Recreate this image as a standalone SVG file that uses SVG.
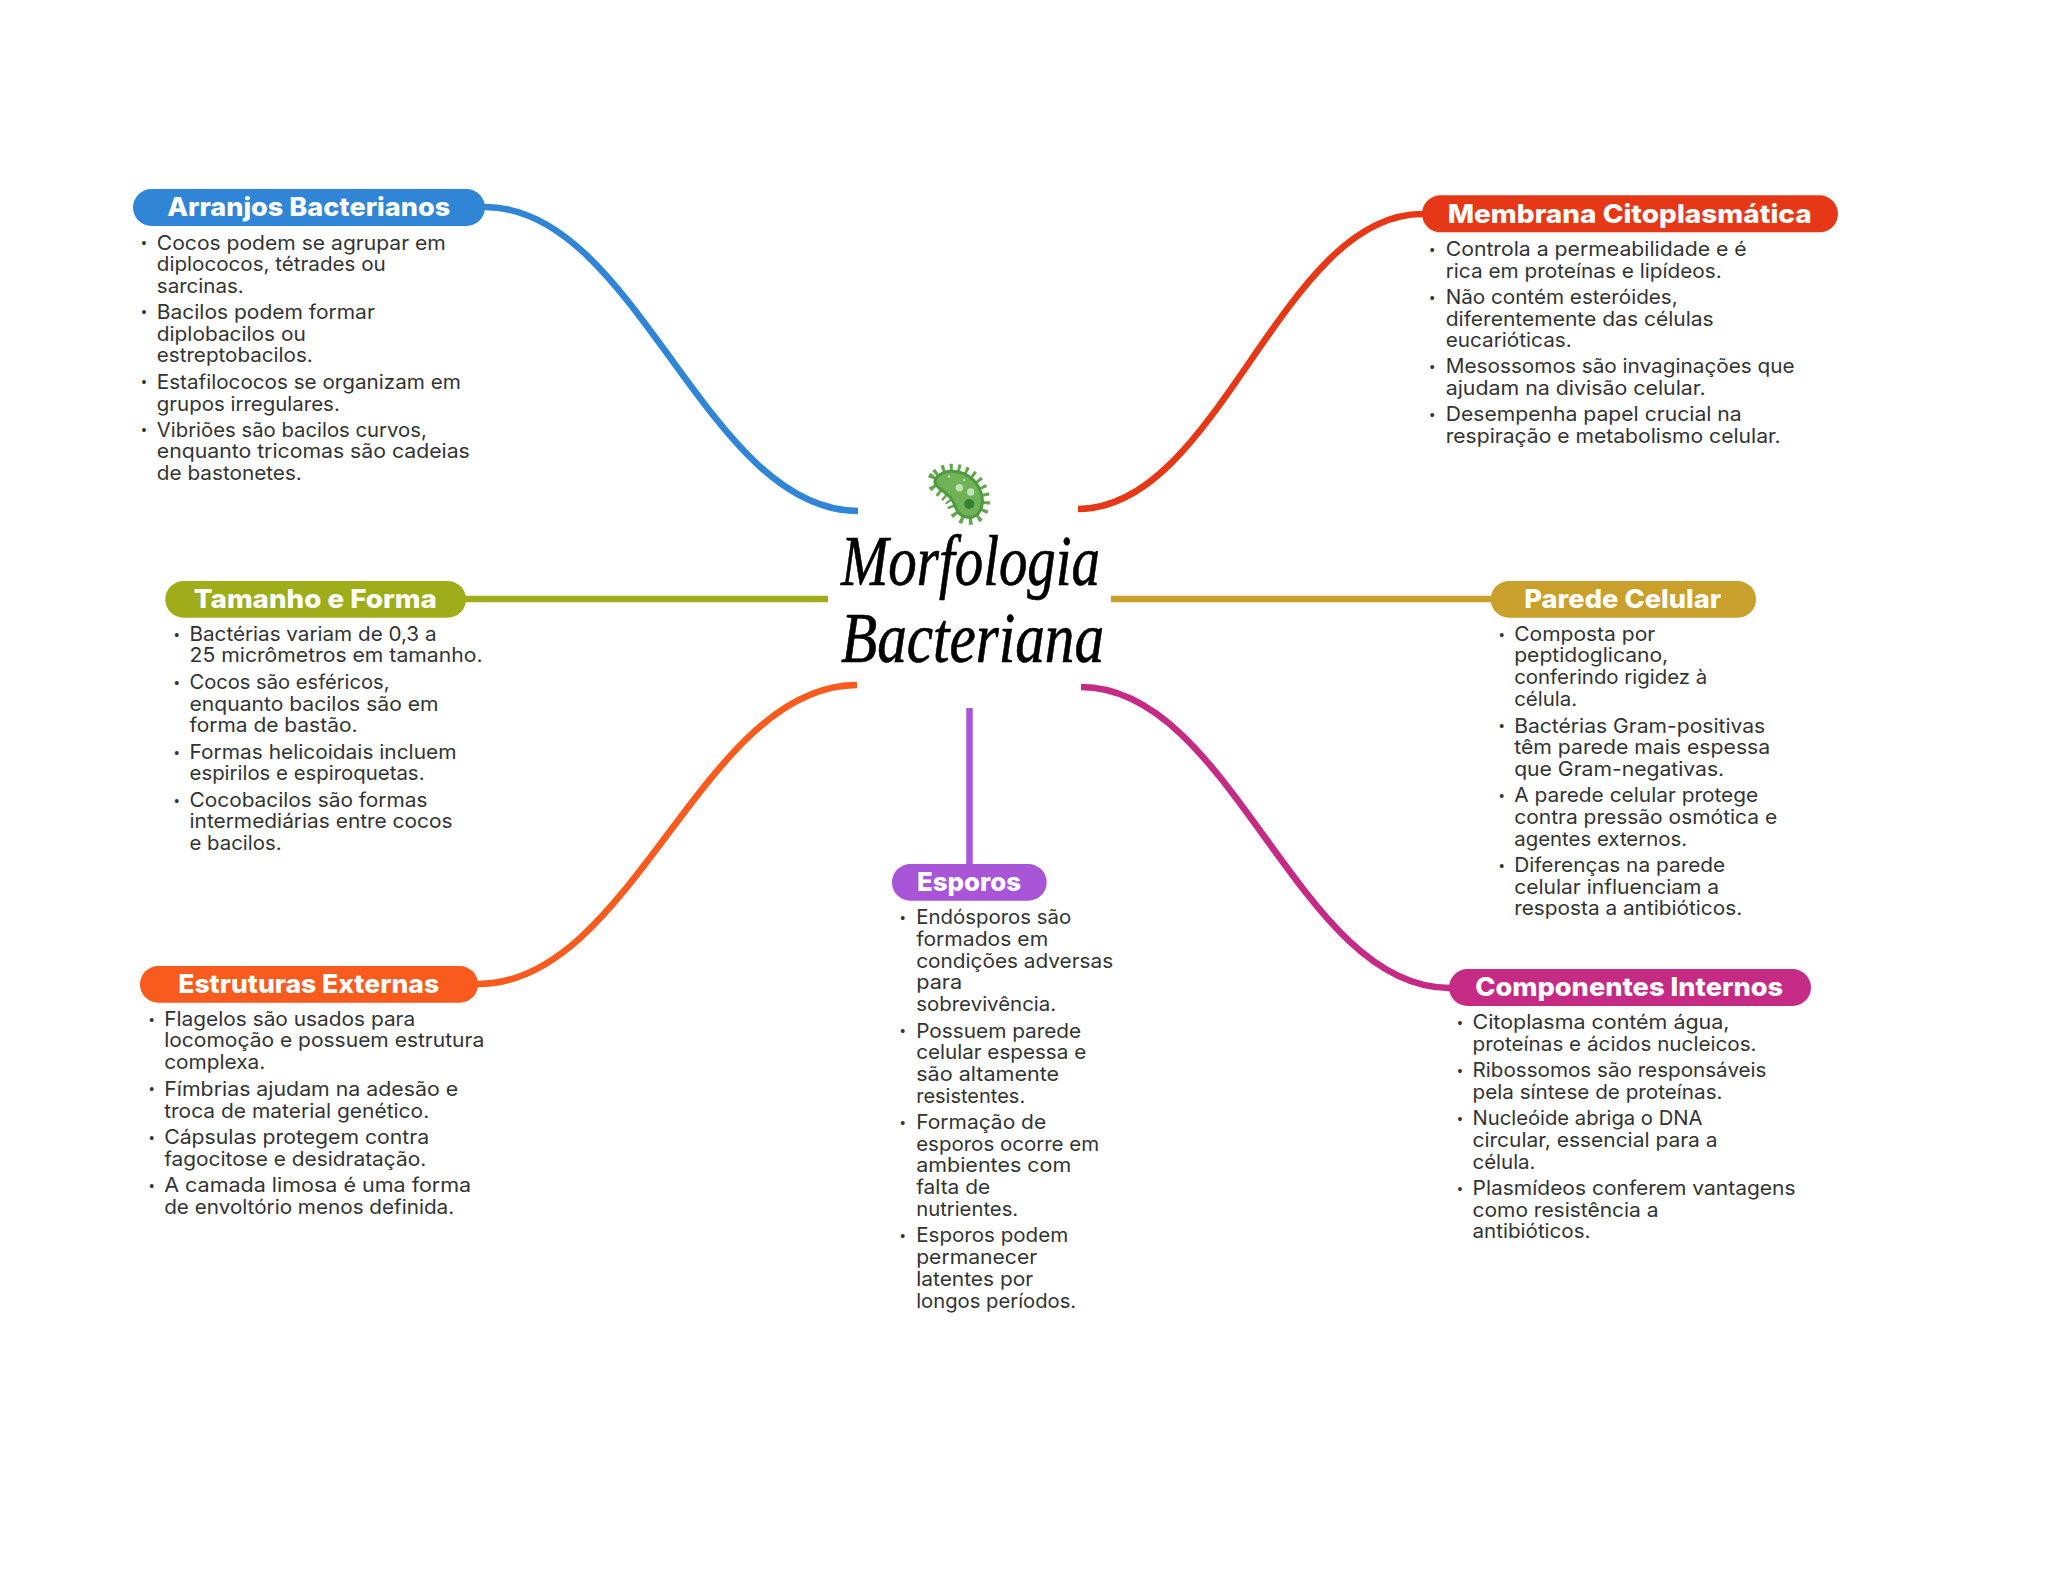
<svg xmlns="http://www.w3.org/2000/svg" width="2048" height="1569" viewBox="0 0 2048 1569">
<style>
.t{font-family:"Inter","Liberation Sans",sans-serif;font-weight:800;font-size:26px;fill:#fff}
.l{font-family:"Inter","Liberation Sans",sans-serif;font-size:20px;fill:#333}
.b{font-family:"Liberation Sans",sans-serif;font-size:14px;fill:#333;text-anchor:middle}
.h{font-family:"Liberation Serif",serif;font-style:italic;font-size:72px;fill:#000;stroke:#000;stroke-width:.7px}
.c{fill:none;stroke-width:6.5}
.blue{fill:#3085d6}.red{fill:#e63717}.olive{fill:#a0ad1a}.gold{fill:#c9a02c}.orange{fill:#f95a1e}.mag{fill:#c52b85}.pur{fill:#a855d8}
</style>
<g id="connectors">
<path class="c" stroke="#3085d6" d="M480 207H485C637 207 705 511 858 511"/>
<path class="c" stroke="#e63717" d="M1428 214H1422C1281 214 1219 509 1078 509"/>
<path class="c" stroke="#a0ad1a" d="M460 599H828"/>
<path class="c" stroke="#c9a02c" d="M1111 599H1497"/>
<path class="c" stroke="#f95a1e" d="M472 984H478C633 984 702 685 857 685"/>
<path class="c" stroke="#c52b85" d="M1455 988H1449C1298 988 1232 687 1081 687"/>
<path class="c" stroke="#a855d8" d="M969.5 708V870"/>
</g>
<g id="center">
<g transform="translate(800 430) scale(.33333)">
<path fill="none" stroke="#63a64e" stroke-width="46" stroke-dasharray="8 13" d="M412 140C440 115 490 120 520 150C550 180 555 225 535 250C515 270 480 265 468 235C458 205 450 200 425 180C405 165 398 155 412 140Z"/>
<path fill="#6fb356" stroke="#4f9a3f" stroke-width="9" d="M412 140C440 115 490 120 520 150C550 180 555 225 535 250C515 270 480 265 468 235C458 205 450 200 425 180C405 165 398 155 412 140Z"/>
<circle cx="478" cy="173" r="11" fill="#c3e2b6"/><circle cx="512" cy="186" r="11" fill="#c3e2b6"/><circle cx="447" cy="140" r="4" fill="#b5dba6"/><circle cx="492" cy="150" r="4" fill="#b5dba6"/>
<circle cx="508" cy="222" r="15" fill="#3a7f33"/>
</g>
<text class="h" x="841" y="585" textLength="259" lengthAdjust="spacingAndGlyphs">Morfologia</text>
<text class="h" x="841" y="662" textLength="263" lengthAdjust="spacingAndGlyphs">Bacteriana</text>
</g>
<g id="node-arranjos">
<rect class="blue" x="133" y="189" width="352" height="37" rx="18.5"/>
<text class="t" x="167.2" y="216" textLength="283" lengthAdjust="spacingAndGlyphs">Arranjos Bacterianos</text>
<text class="b" x="144" y="248">•</text>
<text class="l" x="156.8" y="249.5" textLength="289" lengthAdjust="spacingAndGlyphs">Cocos podem se agrupar em</text>
<text class="l" x="156.8" y="271.1" textLength="229" lengthAdjust="spacingAndGlyphs">diplococos, tétrades ou</text>
<text class="l" x="156.8" y="292.8" textLength="87" lengthAdjust="spacingAndGlyphs">sarcinas.</text>
<text class="b" x="144" y="317.3">•</text>
<text class="l" x="156.8" y="318.8" textLength="218" lengthAdjust="spacingAndGlyphs">Bacilos podem formar</text>
<text class="l" x="156.8" y="340.5" textLength="149" lengthAdjust="spacingAndGlyphs">diplobacilos ou</text>
<text class="l" x="156.8" y="362.2" textLength="156" lengthAdjust="spacingAndGlyphs">estreptobacilos.</text>
<text class="b" x="144" y="387.3">•</text>
<text class="l" x="156.8" y="388.8" textLength="304" lengthAdjust="spacingAndGlyphs">Estafilococos se organizam em</text>
<text class="l" x="156.8" y="410.5" textLength="183" lengthAdjust="spacingAndGlyphs">grupos irregulares.</text>
<text class="b" x="144" y="435">•</text>
<text class="l" x="156.8" y="436.5" textLength="270" lengthAdjust="spacingAndGlyphs">Vibriões são bacilos curvos,</text>
<text class="l" x="156.8" y="458.2" textLength="313" lengthAdjust="spacingAndGlyphs">enquanto tricomas são cadeias</text>
<text class="l" x="156.8" y="479.9" textLength="145" lengthAdjust="spacingAndGlyphs">de bastonetes.</text>
</g>
<g id="node-membrana">
<rect class="red" x="1422" y="195.3" width="416" height="37" rx="18.5"/>
<text class="t" x="1447.7" y="222.7" textLength="364" lengthAdjust="spacingAndGlyphs">Membrana Citoplasmática</text>
<text class="b" x="1432.3" y="255">•</text>
<text class="l" x="1445.7" y="256" textLength="301" lengthAdjust="spacingAndGlyphs">Controla a permeabilidade e é</text>
<text class="l" x="1445.7" y="277.7" textLength="276" lengthAdjust="spacingAndGlyphs">rica em proteínas e lipídeos.</text>
<text class="b" x="1432.3" y="303">•</text>
<text class="l" x="1445.7" y="304" textLength="232" lengthAdjust="spacingAndGlyphs">Não contém esteróides,</text>
<text class="l" x="1445.7" y="325.7" textLength="268" lengthAdjust="spacingAndGlyphs">diferentemente das células</text>
<text class="l" x="1445.7" y="347.3" textLength="126" lengthAdjust="spacingAndGlyphs">eucarióticas.</text>
<text class="b" x="1432.3" y="372.3">•</text>
<text class="l" x="1445.7" y="373.3" textLength="349" lengthAdjust="spacingAndGlyphs">Mesossomos são invaginações que</text>
<text class="l" x="1445.7" y="395" textLength="260" lengthAdjust="spacingAndGlyphs">ajudam na divisão celular.</text>
<text class="b" x="1432.3" y="420.3">•</text>
<text class="l" x="1445.7" y="421.3" textLength="296" lengthAdjust="spacingAndGlyphs">Desempenha papel crucial na</text>
<text class="l" x="1445.7" y="443.3" textLength="335" lengthAdjust="spacingAndGlyphs">respiração e metabolismo celular.</text>
</g>
<g id="node-tamanho">
<rect class="olive" x="165.3" y="581" width="300.7" height="36.7" rx="18.3"/>
<text class="t" x="193.8" y="607.7" textLength="243" lengthAdjust="spacingAndGlyphs">Tamanho e Forma</text>
<text class="b" x="176.7" y="639.7">•</text>
<text class="l" x="189.5" y="640.7" textLength="247" lengthAdjust="spacingAndGlyphs">Bactérias variam de 0,3 a</text>
<text class="l" x="189.5" y="662.3" textLength="293" lengthAdjust="spacingAndGlyphs">25 micrômetros em tamanho.</text>
<text class="b" x="176.7" y="688">•</text>
<text class="l" x="189.5" y="689" textLength="200" lengthAdjust="spacingAndGlyphs">Cocos são esféricos,</text>
<text class="l" x="189.5" y="710.7" textLength="249" lengthAdjust="spacingAndGlyphs">enquanto bacilos são em</text>
<text class="l" x="189.5" y="732.3" textLength="168" lengthAdjust="spacingAndGlyphs">forma de bastão.</text>
<text class="b" x="176.7" y="757.7">•</text>
<text class="l" x="189.5" y="758.7" textLength="267" lengthAdjust="spacingAndGlyphs">Formas helicoidais incluem</text>
<text class="l" x="189.5" y="780.3" textLength="235" lengthAdjust="spacingAndGlyphs">espirilos e espiroquetas.</text>
<text class="b" x="176.7" y="805.7">•</text>
<text class="l" x="189.5" y="806.7" textLength="238" lengthAdjust="spacingAndGlyphs">Cocobacilos são formas</text>
<text class="l" x="189.5" y="828.3" textLength="263" lengthAdjust="spacingAndGlyphs">intermediárias entre cocos</text>
<text class="l" x="189.5" y="850" textLength="92" lengthAdjust="spacingAndGlyphs">e bacilos.</text>
</g>
<g id="node-parede">
<rect class="gold" x="1490.7" y="581" width="265.3" height="36.7" rx="18.3"/>
<text class="t" x="1524.3" y="607.7" textLength="197" lengthAdjust="spacingAndGlyphs">Parede Celular</text>
<text class="b" x="1501.7" y="639.7">•</text>
<text class="l" x="1514.2" y="640.7" textLength="141" lengthAdjust="spacingAndGlyphs">Composta por</text>
<text class="l" x="1514.2" y="662.3" textLength="154" lengthAdjust="spacingAndGlyphs">peptidoglicano,</text>
<text class="l" x="1514.2" y="684" textLength="193" lengthAdjust="spacingAndGlyphs">conferindo rigidez à</text>
<text class="l" x="1514.2" y="705.7" textLength="63" lengthAdjust="spacingAndGlyphs">célula.</text>
<text class="b" x="1501.7" y="731.3">•</text>
<text class="l" x="1514.2" y="732.6" textLength="251" lengthAdjust="spacingAndGlyphs">Bactérias Gram-positivas</text>
<text class="l" x="1514.2" y="754" textLength="256" lengthAdjust="spacingAndGlyphs">têm parede mais espessa</text>
<text class="l" x="1514.2" y="775.7" textLength="210" lengthAdjust="spacingAndGlyphs">que Gram-negativas.</text>
<text class="b" x="1501.7" y="801.3">•</text>
<text class="l" x="1514.2" y="802.3" textLength="244" lengthAdjust="spacingAndGlyphs">A parede celular protege</text>
<text class="l" x="1514.2" y="824" textLength="263" lengthAdjust="spacingAndGlyphs">contra pressão osmótica e</text>
<text class="l" x="1514.2" y="845.7" textLength="173" lengthAdjust="spacingAndGlyphs">agentes externos.</text>
<text class="b" x="1501.7" y="871">•</text>
<text class="l" x="1514.2" y="872" textLength="211" lengthAdjust="spacingAndGlyphs">Diferenças na parede</text>
<text class="l" x="1514.2" y="893.7" textLength="205" lengthAdjust="spacingAndGlyphs">celular influenciam a</text>
<text class="l" x="1514.2" y="915.3" textLength="228" lengthAdjust="spacingAndGlyphs">resposta a antibióticos.</text>
</g>
<g id="node-estruturas">
<rect class="orange" x="140" y="966" width="338" height="36.7" rx="18.3"/>
<text class="t" x="178.2" y="993.2" textLength="261" lengthAdjust="spacingAndGlyphs">Estruturas Externas</text>
<text class="b" x="151.7" y="1024.7">•</text>
<text class="l" x="164.2" y="1025.7" textLength="251" lengthAdjust="spacingAndGlyphs">Flagelos são usados para</text>
<text class="l" x="164.2" y="1047.3" textLength="320" lengthAdjust="spacingAndGlyphs">locomoção e possuem estrutura</text>
<text class="l" x="164.2" y="1069" textLength="101" lengthAdjust="spacingAndGlyphs">complexa.</text>
<text class="b" x="151.7" y="1094.3">•</text>
<text class="l" x="164.2" y="1095.8" textLength="294" lengthAdjust="spacingAndGlyphs">Fímbrias ajudam na adesão e</text>
<text class="l" x="164.2" y="1117.5" textLength="265" lengthAdjust="spacingAndGlyphs">troca de material genético.</text>
<text class="b" x="151.7" y="1142.7">•</text>
<text class="l" x="164.2" y="1143.7" textLength="265" lengthAdjust="spacingAndGlyphs">Cápsulas protegem contra</text>
<text class="l" x="164.2" y="1165.5" textLength="262" lengthAdjust="spacingAndGlyphs">fagocitose e desidratação.</text>
<text class="b" x="151.7" y="1190.7">•</text>
<text class="l" x="164.2" y="1191.7" textLength="307" lengthAdjust="spacingAndGlyphs">A camada limosa é uma forma</text>
<text class="l" x="164.2" y="1213.5" textLength="290" lengthAdjust="spacingAndGlyphs">de envoltório menos definida.</text>
</g>
<g id="node-esporos">
<rect class="pur" x="892" y="864" width="154.7" height="36.7" rx="18.3"/>
<text class="t" x="917" y="890.7" textLength="104" lengthAdjust="spacingAndGlyphs">Esporos</text>
<text class="b" x="902.7" y="923">•</text>
<text class="l" x="916.2" y="924" textLength="155" lengthAdjust="spacingAndGlyphs">Endósporos são</text>
<text class="l" x="916.2" y="945.7" textLength="132" lengthAdjust="spacingAndGlyphs">formados em</text>
<text class="l" x="916.2" y="967.7" textLength="197" lengthAdjust="spacingAndGlyphs">condições adversas</text>
<text class="l" x="916.2" y="989.3" textLength="46" lengthAdjust="spacingAndGlyphs">para</text>
<text class="l" x="916.2" y="1011" textLength="140" lengthAdjust="spacingAndGlyphs">sobrevivência.</text>
<text class="b" x="902.7" y="1036.3">•</text>
<text class="l" x="916.2" y="1037.6" textLength="165" lengthAdjust="spacingAndGlyphs">Possuem parede</text>
<text class="l" x="916.2" y="1059" textLength="170" lengthAdjust="spacingAndGlyphs">celular espessa e</text>
<text class="l" x="916.2" y="1080.7" textLength="143" lengthAdjust="spacingAndGlyphs">são altamente</text>
<text class="l" x="916.2" y="1102.5" textLength="109" lengthAdjust="spacingAndGlyphs">resistentes.</text>
<text class="b" x="902.7" y="1128">•</text>
<text class="l" x="916.2" y="1129" textLength="130" lengthAdjust="spacingAndGlyphs">Formação de</text>
<text class="l" x="916.2" y="1150.7" textLength="183" lengthAdjust="spacingAndGlyphs">esporos ocorre em</text>
<text class="l" x="916.2" y="1172.3" textLength="155" lengthAdjust="spacingAndGlyphs">ambientes com</text>
<text class="l" x="916.2" y="1194" textLength="74" lengthAdjust="spacingAndGlyphs">falta de</text>
<text class="l" x="916.2" y="1215.7" textLength="102" lengthAdjust="spacingAndGlyphs">nutrientes.</text>
<text class="b" x="902.7" y="1241">•</text>
<text class="l" x="916.2" y="1242.3" textLength="152" lengthAdjust="spacingAndGlyphs">Esporos podem</text>
<text class="l" x="916.2" y="1264" textLength="121" lengthAdjust="spacingAndGlyphs">permanecer</text>
<text class="l" x="916.2" y="1285.7" textLength="117" lengthAdjust="spacingAndGlyphs">latentes por</text>
<text class="l" x="916.2" y="1307.5" textLength="160" lengthAdjust="spacingAndGlyphs">longos períodos.</text>
</g>
<g id="node-componentes">
<rect class="mag" x="1449" y="969" width="362" height="37" rx="18.5"/>
<text class="t" x="1475.2" y="996" textLength="308" lengthAdjust="spacingAndGlyphs">Componentes Internos</text>
<text class="b" x="1460" y="1028.3">•</text>
<text class="l" x="1472.5" y="1029.3" textLength="257" lengthAdjust="spacingAndGlyphs">Citoplasma contém água,</text>
<text class="l" x="1472.5" y="1051" textLength="284" lengthAdjust="spacingAndGlyphs">proteínas e ácidos nucleicos.</text>
<text class="b" x="1460" y="1076.3">•</text>
<text class="l" x="1472.5" y="1077.3" textLength="294" lengthAdjust="spacingAndGlyphs">Ribossomos são responsáveis</text>
<text class="l" x="1472.5" y="1099" textLength="250" lengthAdjust="spacingAndGlyphs">pela síntese de proteínas.</text>
<text class="b" x="1460" y="1124.3">•</text>
<text class="l" x="1472.5" y="1125.3" textLength="230" lengthAdjust="spacingAndGlyphs">Nucleóide abriga o DNA</text>
<text class="l" x="1472.5" y="1147" textLength="245" lengthAdjust="spacingAndGlyphs">circular, essencial para a</text>
<text class="l" x="1472.5" y="1168.6" textLength="63" lengthAdjust="spacingAndGlyphs">célula.</text>
<text class="b" x="1460" y="1193.7">•</text>
<text class="l" x="1472.5" y="1195" textLength="323" lengthAdjust="spacingAndGlyphs">Plasmídeos conferem vantagens</text>
<text class="l" x="1472.5" y="1216.6" textLength="186" lengthAdjust="spacingAndGlyphs">como resistência a</text>
<text class="l" x="1472.5" y="1238.3" textLength="118" lengthAdjust="spacingAndGlyphs">antibióticos.</text>
</g>
</svg>
